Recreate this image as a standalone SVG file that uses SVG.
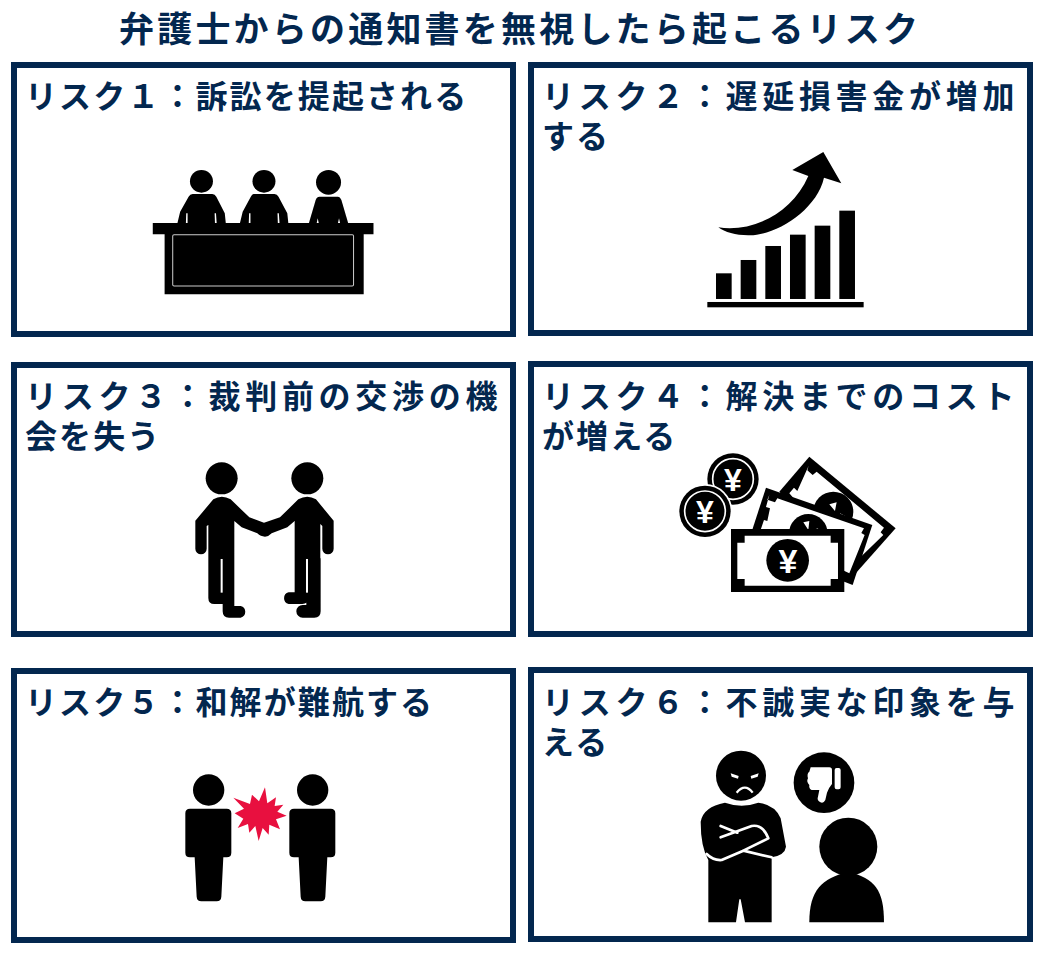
<svg xmlns="http://www.w3.org/2000/svg" width="1044" height="954" viewBox="0 0 1044 954">
<style>
text{font-family:"Noto Sans CJK JP","Noto Sans",sans-serif;font-weight:700;fill:#03274f}
.t{font-size:35px;letter-spacing:3.2px}
.l{font-size:32px;letter-spacing:2.1px}
.j{font-size:32px;letter-spacing:4.7px}
.b{fill:#fff;stroke:#03274f;stroke-width:6}
.w{fill:#fff}
.s{fill:none;stroke:#fff;stroke-linecap:round;stroke-linejoin:round}
text.y{font-family:"Liberation Sans",sans-serif;fill:#fff;text-anchor:middle}
</style>
<g id="title"><text class="t" x="119" y="42">弁護士からの通知書を無視したら起こるリスク</text></g>

<g id="risk1">
<rect class="b" x="14" y="65" width="499" height="269"/>
<text class="l" x="25" y="108">リスク１：訴訟を提起される</text>
<g transform="scale(.338 .3333)">
<circle cx="596" cy="544" r="34"/><circle cx="781" cy="544" r="34"/><circle cx="972" cy="547" r="37"/>
<path d="M570 582H628Q636 582 640 590L665 640L668 669H525L533 635L558 590Q562 582 570 582Z"/>
<path d="M750 582H812Q820 582 824 590L850 640L853 669H710L718 635L742 590Q746 582 750 582Z"/>
<path d="M945 590H1000Q1006 590 1010 600L1030 669H914L934 600Q938 590 945 590Z"/>
<path d="M452 669H1105V703H1076V883H487V703H452Z"/>
<rect x="511" y="704" width="535" height="154" rx="4" fill="none" stroke="#ccc" stroke-width="3"/>
<path class="w" d="M551 640h4v29h-5zM635 640h4l2 29h-5zM737 640h4v29h-5zM821 640h4l2 29h-5zM940 655l3 14h-6zM1003 655l3 14h-6z"/>
</g>
</g>

<g id="risk2">
<rect class="b" x="531" y="65" width="499" height="268"/>
<text class="j" x="542" y="108">リスク２：遅延損害金が増加</text>
<text class="l" x="542" y="148">する</text>
<g transform="translate(660 140) scale(.3333)">
<rect x="168" y="400" width="47" height="77"/><rect x="242" y="360" width="47" height="117"/><rect x="316" y="318" width="47" height="159"/><rect x="390" y="284" width="47" height="193"/><rect x="464" y="257" width="47" height="220"/><rect x="538" y="212" width="47" height="265"/>
<rect x="142" y="486" width="469" height="16"/>
<path d="M175 262C270 278 395 225 445 108L397 90L490 36L544 130L492 113C470 210 350 285 270 286C230 287 195 277 175 262Z"/>
</g>
</g>

<g id="risk3">
<rect class="b" x="14" y="365" width="499" height="269"/>
<text class="j" x="25" y="408">リスク３：裁判前の交渉の機</text>
<text class="l" x="25" y="448">会を失う</text>
<g transform="translate(170 450) scale(.3333)">
<circle cx="155" cy="85" r="48"/><circle cx="412" cy="85" r="48"/>
<path d="M130 148Q155 132 182 148L238 202L282 218L330 202L385 148Q412 132 438 148L491 212V296A17 17 0 0 1 457 296V228L451 222V325H452V484Q452 503 433 503H398A19 19 0 0 1 398 465H409V328H414V445Q414 462 397 462H356A18 18 0 0 1 356 427H374V213L352 232L305 250Q296 260 285 260Q272 260 262 250L215 232L193 213V468H212A18 18 0 0 1 212 503H177Q158 503 158 484V462H133Q115 462 115 444V225L110 228V296A17 17 0 0 1 76 296V212Z"/>
<rect class="w" x="152" y="327" width="6" height="101"/>
<rect class="w" x="408" y="327" width="6" height="101"/>
</g>
</g>

<g id="risk4">
<rect class="b" x="531" y="364" width="499" height="270"/>
<text class="j" x="542" y="408">リスク４：解決までのコスト</text>
<text class="l" x="542" y="448">が増える</text>
<g transform="translate(660 445) scale(.3333)">
<circle cx="219" cy="102" r="77"/><circle cx="219" cy="102" r="61" fill="none" stroke="#fff" stroke-width="5"/>
<circle cx="135" cy="199" r="82" fill="#fff"/><circle cx="135" cy="199" r="77"/><circle cx="135" cy="199" r="61" fill="none" stroke="#fff" stroke-width="5"/>
<path d="M448 35L707 250L578 395L358 140Z"/>
<path class="w" d="M446 62L442 76L458 90L470 80L672 248L662 262L670 270L575 362L388 145L402 128L412 138Z"/>
<circle cx="520" cy="200" r="60"/>
<path class="w" d="M508 178L530 172L525 198ZM540 205L560 215L545 222Z"/>
<path d="M318 128L637 240L578 420L553 410L275 260Z"/>
<path class="w" d="M328 150L322 164L345 172L352 160L612 250L604 264L614 270L568 385L300 260L312 225L322 228L330 190L318 186Z"/>
<circle cx="445" cy="265" r="58"/>
<path class="w" d="M430 232L448 228L445 255ZM470 250L490 258L472 262Z"/>
<path d="M213 252H553V441H213Z"/>
<path class="w" d="M254 272H512V293H534V402H512V422H254V402H232V293H254Z"/>
<circle cx="383" cy="346" r="64"/>
</g>
<text class="y" x="733" y="491" font-size="32">¥</text>
<text class="y" x="705" y="523" font-size="32">¥</text>
<text class="y" x="788" y="573" font-size="34">¥</text>
</g>

<g id="risk5">
<rect class="b" x="14" y="671" width="499" height="269"/>
<text class="l" x="25" y="714">リスク５：和解が難航する</text>
<g transform="translate(170 760) scale(.3333)">
<circle cx="116" cy="90" r="47"/><circle cx="428" cy="90" r="47"/>
<path d="M60 146H170Q184 146 184 160V278Q184 292 170 292H160L154 410Q153 424 140 424H94Q81 424 80 410L74 292H60Q46 292 46 278V160Q46 146 60 146Z"/>
<path d="M372 146H482Q496 146 496 160V278Q496 292 482 292H472L466 410Q465 424 452 424H406Q393 424 392 410L386 292H372Q358 292 358 278V160Q358 146 372 146Z"/>
<path fill="#e8103f" d="M190 113L240 132L246 104L267 124L285 82L292 130L318 112L314 138L340 134L322 155L350 167L318 178L330 208L298 194L296 224L278 204L266 243L256 198L238 218L234 192L203 204L220 176L194 160L222 146Z"/>
</g>
</g>

<g id="risk6">
<rect class="b" x="531" y="670" width="499" height="269"/>
<text class="j" x="542" y="714">リスク６：不誠実な印象を与</text>
<text class="l" x="542" y="754">える</text>
<g transform="translate(680 740) scale(.3333)">
<circle cx="183" cy="107" r="75"/>
<path class="w" d="M152 100L176 108L174 116L155 110ZM236 100L212 108L214 116L233 110Z"/>
<path d="M170 158Q195 128 218 158" fill="none" stroke="#fff" stroke-width="7"/>
<path d="M135 188Q185 206 235 188Q285 195 302 235L318 320Q315 345 275 352V370V547H195L182 478H178L168 547H85V360Q62 320 62 245Q70 200 135 188Z"/>
<path class="s" stroke-width="8" d="M122 258L172 278M122 292L215 258Q248 252 265 295L190 332L125 360Q100 362 80 342M190 332L275 352"/>
<circle cx="432" cy="128" r="91"/>
<path class="w" d="M464 90V142Q464 148 470 148H476Q482 148 482 142V90Q482 84 476 84H470Q464 84 464 90ZM392 82H448Q456 82 456 90V132Q445 145 441 158L436 180Q430 192 420 186Q410 180 414 170L418 150H395Q386 146 388 135Q378 125 384 115Q380 100 388 95Z"/>
<circle cx="505" cy="320" r="87"/>
<path d="M388 547C388 450 425 415 505 395C585 415 612 450 612 547Z"/>
</g>
</g>
</svg>
